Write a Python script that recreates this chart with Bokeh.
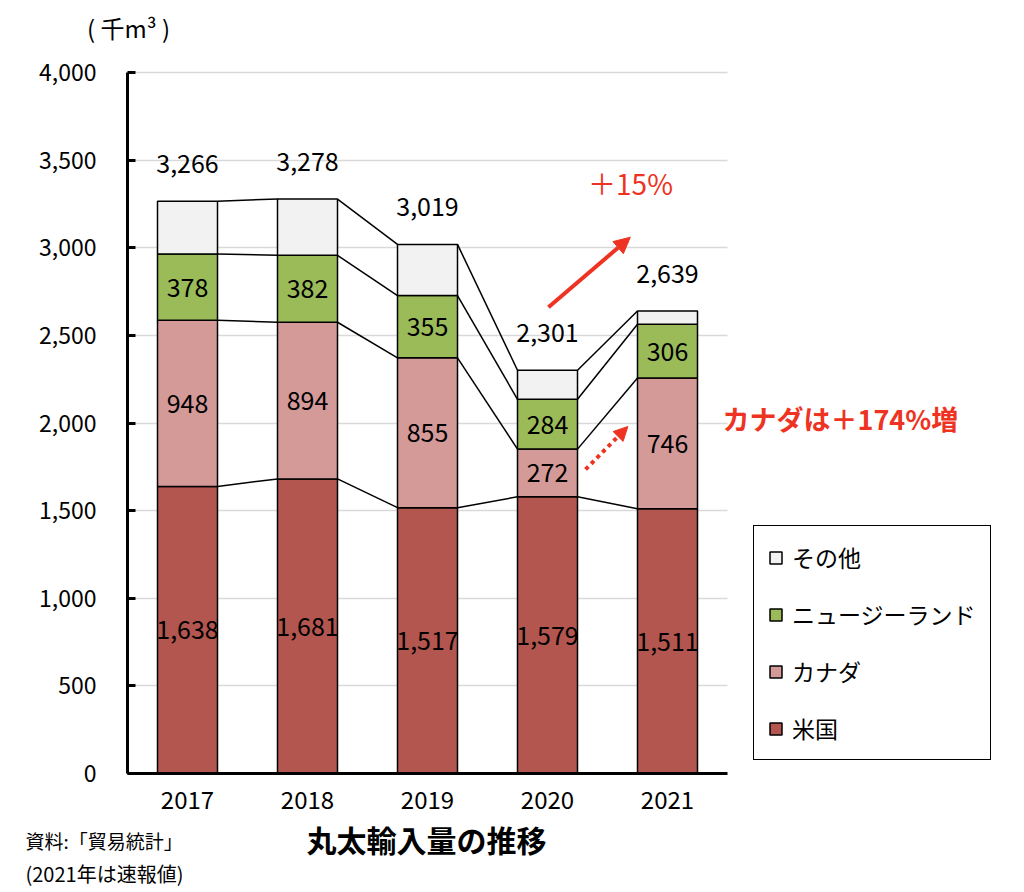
from bokeh.plotting import figure
from bokeh.models import (ColumnDataSource, Range1d, FixedTicker, NumeralTickFormatter,
                          Legend, LegendItem, Label, Arrow, NormalHead)
from bokeh.core.properties import value
from bokeh.embed import file_html
from bokeh.resources import INLINE

# ---- data ----
years = ["2017", "2018", "2019", "2020", "2021"]
usa = [1638, 1681, 1517, 1579, 1511]
canada = [948, 894, 855, 272, 746]
nz = [378, 382, 355, 284, 306]
totals = [3266, 3278, 3019, 2301, 2639]
others = [t - a - b - c for t, a, b, c in zip(totals, usa, canada, nz)]
series = ["米国", "カナダ", "ニュージーランド", "その他"]
colors = ["#B3564F", "#D49A98", "#9BBB59", "#F2F2F2"]
y_ticks = [0, 500, 1000, 1500, 2000, 2500, 3000, 3500, 4000]

FONT = "Noto Sans CJK JP"
RED = "#EE3322"
W, H = 1024, 892

xs = list(range(len(years)))
src = ColumnDataSource(dict(x=xs, 米国=usa, カナダ=canada, ニュージーランド=nz, その他=others))

# frame covers the whole canvas; axes are pinned with fixed_location
PX_PER_X = 120.0
PX_PER_Y = 0.17525
X0_PX, Y0_PX = 127, 773  # page position of (x=-0.5, y=0)
x_lo = (0 - X0_PX) / PX_PER_X - 0.5
x_hi = (W - X0_PX) / PX_PER_X - 0.5
y_hi = (Y0_PX - 0) / PX_PER_Y
y_lo = (Y0_PX - H) / PX_PER_Y

p = figure(width=W, height=H, output_backend="svg", toolbar_location=None,
           x_range=Range1d(x_lo, x_hi), y_range=Range1d(y_lo, y_hi),
           min_border=0, min_border_left=0, min_border_right=0,
           min_border_top=0, min_border_bottom=0)
p.outline_line_color = None
p.background_fill_color = "white"
p.border_fill_color = "white"

renderers = p.vbar_stack(series, x="x", width=0.5, source=src, color=colors,
                         line_color="black", line_width=1.5)

# connector lines between bars at cumulative levels
cum_levels = []
acc = [0] * len(years)
for s in [usa, canada, nz, others]:
    acc = [a + v for a, v in zip(acc, s)]
    cum_levels.append(list(acc))
x0, y0, x1, y1 = [], [], [], []
for lev in cum_levels:
    for i in range(len(years) - 1):
        x0.append(i + 0.25); x1.append(i + 1 - 0.25)
        y0.append(lev[i]); y1.append(lev[i + 1])
p.segment(x0=x0, y0=y0, x1=x1, y1=y1, line_color="black", line_width=1.5)

# value labels inside bars
lx, ly, lt = [], [], []
bottom = [0] * len(years)
for s in [usa, canada, nz]:
    for i, v in enumerate(s):
        lx.append(i); ly.append(bottom[i] + v / 2); lt.append(f"{v:,}")
    bottom = [b + v for b, v in zip(bottom, s)]
p.text(x=lx, y=ly, text=lt, text_align="center", text_baseline="middle",
       text_font=value(FONT), text_font_size="25px", text_color="black")
# totals above bars
p.text(x=xs, y=totals, text=[f"{t:,}" for t in totals], y_offset=-38,
       text_align="center", text_baseline="middle",
       text_font=value(FONT), text_font_size="25px", text_color="black")

# axes
p.yaxis.fixed_location = -0.5
p.yaxis.bounds = (0, 4000)
p.yaxis.ticker = FixedTicker(ticks=y_ticks)
p.yaxis.formatter = NumeralTickFormatter(format="0,0")
p.yaxis.major_tick_in = 8
p.yaxis.major_tick_out = 0
p.yaxis.major_tick_line_width = 3
p.yaxis.minor_tick_line_color = None
p.yaxis.axis_line_width = 3
p.yaxis.major_label_standoff = 31
p.yaxis.major_label_text_font = FONT
p.yaxis.major_label_text_font_size = "23px"
p.yaxis.major_label_text_color = "black"

p.xaxis.fixed_location = 0
p.xaxis.bounds = (-0.5, 4.5)
p.xaxis.ticker = FixedTicker(ticks=xs)
p.xaxis.major_label_overrides = {i: y for i, y in enumerate(years)}
p.xaxis.major_tick_in = 0
p.xaxis.major_tick_out = 0
p.xaxis.minor_tick_line_color = None
p.xaxis.axis_line_width = 3
p.xaxis.major_label_standoff = 17
p.xaxis.major_label_text_font = FONT
p.xaxis.major_label_text_font_size = "24px"
p.xaxis.major_label_text_color = "black"

p.xgrid.grid_line_color = None
p.ygrid.grid_line_color = "#D9D9D9"
p.ygrid.grid_line_width = 1.5
p.ygrid.cross_bounds = (-0.5, 4.5)

# legend
items = [LegendItem(label=series[k], renderers=[renderers[k]]) for k in [3, 2, 1, 0]]
legend = Legend(items=items, location=(753, 132), border_line_color="black",
                border_line_width=1.5, border_line_alpha=1.0,
                label_text_font=FONT, label_text_font_size="23px", label_text_color="black",
                glyph_width=15, glyph_height=15,
                label_height=28, spacing=23, padding=14, label_standoff=9,
                background_fill_alpha=1.0)
p.add_layout(legend)

# texts (screen units: origin at canvas bottom-left)
def lab(text, px, py, size, color="black", align="left", style="normal"):
    p.add_layout(Label(text=text, x=px, y=H - py, x_units="screen", y_units="screen",
                       text_font=FONT, text_font_size=size, text_color=color,
                       text_align=align, text_baseline="middle", text_font_style=style))

lab("( 千m³ )", 128, 27, "24px", align="center")
lab("丸太輸入量の推移", 426, 838, "30px", align="center", style="bold")
lab("資料:「貿易統計」", 25, 840, "19px")
lab("(2021年は速報値)", 25, 873, "20px")
lab("＋15%", 630, 182, "28px", color=RED, align="center")
lab("カナダは＋174%増", 722, 418, "27px", color=RED, style="bold")

# arrows
p.add_layout(Arrow(end=NormalHead(size=16, fill_color=RED, line_color=RED),
                   x_start=3.008, y_start=2660, x_end=3.69, y_end=3060,
                   line_color=RED, line_width=4))
p.add_layout(Arrow(end=NormalHead(size=14, fill_color=RED, line_color=RED),
                   x_start=3.317, y_start=1735, x_end=3.67, y_end=1980,
                   line_color=RED, line_width=4, line_dash="4 4"))

open("out.html", "w").write(file_html(p, INLINE))
